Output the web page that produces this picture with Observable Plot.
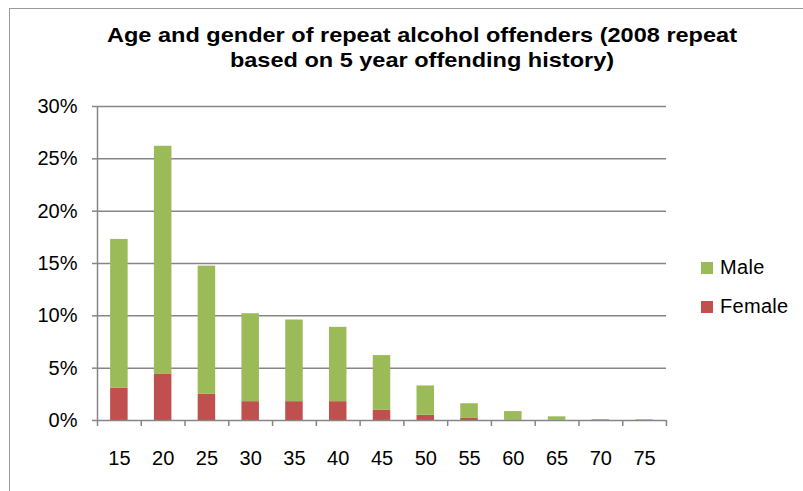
<!DOCTYPE html>
<html>
<head>
<meta charset="utf-8">
<script src="https://cdn.jsdelivr.net/npm/d3@7"></script>
<script src="https://cdn.jsdelivr.net/npm/@observablehq/plot@0.6"></script>
<style>
  html, body { margin: 0; padding: 0; background: #fff; }
  #wrap { position: relative; width: 803px; height: 491px; overflow: hidden; font-family: "Liberation Sans", Arial, sans-serif; }
  #frame { position: absolute; left: 9px; top: 8px; width: 900px; height: 600px; border: 1.5px solid #9a9a9a; box-sizing: border-box; }
  #chart { position: absolute; left: 0; top: 0; }
  #title { position: absolute; left: 9px; width: 826px; top: 22px; text-align: center; font-weight: bold; font-size: 21px; line-height: 25px; color: #000; transform: scaleX(1.12); transform-origin: 413px 0; }
  .leg { position: absolute; left: 701px; font-size: 20px; letter-spacing: 0.3px; color: #000; display: flex; align-items: center; }
  .sw { width: 12px; height: 12px; margin-right: 7px; }
</style>
</head>
<body>
<div id="wrap">
  <div id="frame"></div>
  <div id="chart"></div>
  <div id="title">Age and gender of repeat alcohol offenders (2008 repeat<br>based on 5 year offending history)</div>
  <div class="leg" style="top:256px"><div class="sw" style="background:#9BBB59"></div>Male</div>
  <div class="leg" style="top:295px"><div class="sw" style="background:#C0504D"></div>Female</div>
</div>
<script>
const ages = ["15","20","25","30","35","40","45","50","55","60","65","70","75"];
const female = [3.1, 4.4, 2.5, 1.8, 1.8, 1.8, 1.0, 0.5, 0.2, 0.05, 0.02, 0.01, 0.01];
const male = [14.2, 21.8, 12.25, 8.4, 7.8, 7.1, 5.2, 2.8, 1.4, 0.8, 0.33, 0.08, 0.06];
const yTicks = [0, 5, 10, 15, 20, 25, 30];

const rows = [];
ages.forEach((a, i) => {
  rows.push({i, age: a, sex: "Female", y1: 0, y2: female[i]});
  rows.push({i, age: a, sex: "Male", y1: female[i], y2: female[i] + male[i]});
});

const gray = "#868686";
const chart = Plot.plot({
  width: 803,
  height: 491,
  marginLeft: 97,
  marginRight: 137,
  marginTop: 106,
  marginBottom: 71,
  style: {fontFamily: "'Liberation Sans', Arial, sans-serif", fontSize: "20px", color: "#000", background: "transparent"},
  x: {type: "linear", domain: [0, ages.length]},
  y: {domain: [0, 30]},
  color: {domain: ["Male", "Female"], range: ["#9BBB59", "#C0504D"]},
  marks: [
    Plot.ruleY(yTicks.slice(1), {stroke: gray, strokeWidth: 1.5, strokeOpacity: 1}),
    Plot.axisY({ticks: yTicks, tickFormat: d => d + "%", tickSize: 5, tickPadding: 15, stroke: gray, strokeWidth: 1.5, strokeOpacity: 1, label: null, fill: "#000"}),
    Plot.rectY(rows, {x1: d => d.i + 0.3, x2: d => d.i + 0.7, y1: "y1", y2: "y2", fill: d => d.sex}),
    Plot.ruleX([0], {stroke: gray, strokeWidth: 1.5}),
    Plot.ruleY([0], {stroke: gray, strokeWidth: 1.5}),
    Plot.axisX({ticks: d3.range(ages.length + 1), tickFormat: () => "", tickSize: 6, stroke: gray, strokeWidth: 1.5, strokeOpacity: 1, label: null}),
    Plot.axisX({ticks: ages.map((a, i) => i + 0.5), tickFormat: (d) => ages[Math.floor(d)], tickSize: 0, tickPadding: 30, label: null, fill: "#000"})
  ]
});
document.getElementById("chart").appendChild(chart);
</script>
</body>
</html>
